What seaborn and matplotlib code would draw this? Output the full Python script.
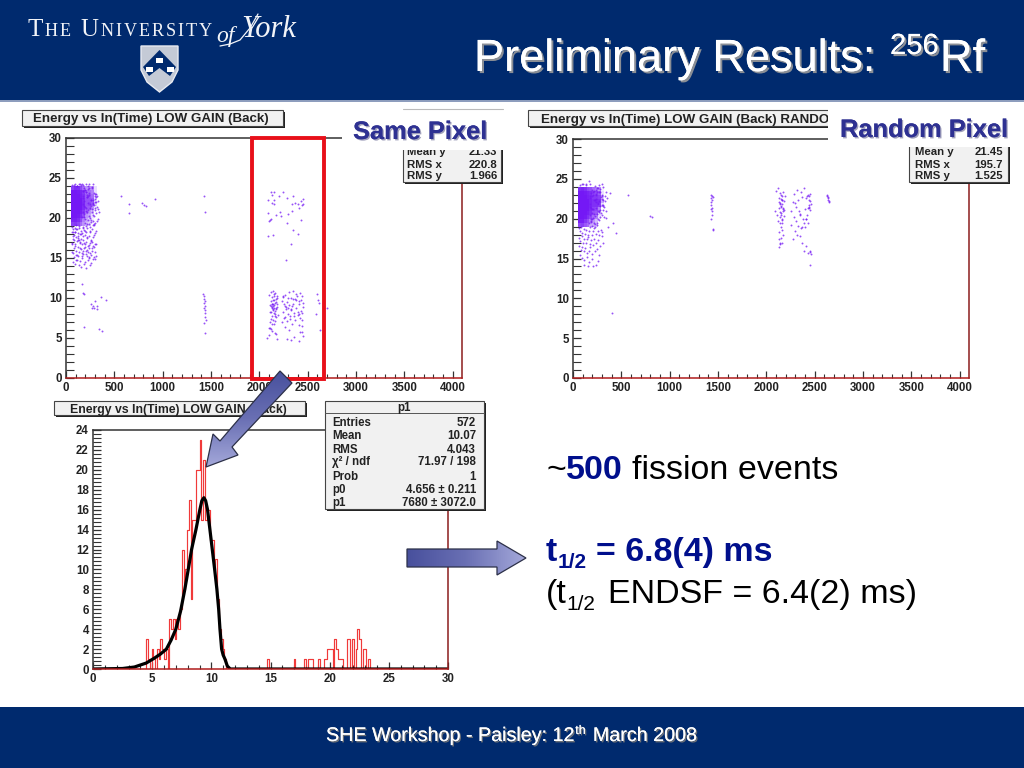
import numpy as np
import matplotlib
matplotlib.use("Agg")
import matplotlib.pyplot as plt
import matplotlib.patheffects as pe
from matplotlib.colors import LinearSegmentedColormap
from matplotlib.patches import Polygon, Rectangle
import seaborn as sns

# ---------------- DATA ----------------
# dense alpha blob, read as a density per cell (time bins across, energy bins down)
blob_x = [65, 95, 125, 155, 185, 215, 245, 275, 305]
blob_y = [23.75, 23.25, 22.75, 22.25, 21.75, 21.25, 20.75, 20.25, 19.75, 19.25]
same_blob = [
    [.60, .75, .70, .55, .40, .30, .30, .30, .10],
    [1.0, 1.0, .95, .85, .65, .40, .40, .35, .10],
    [1.0, 1.0, 1.0, .90, .70, .45, .45, .40, .10],
    [1.0, 1.0, 1.0, 1.0, .75, .50, .50, .45, .10],
    [1.0, 1.0, 1.0, 1.0, .80, .50, .55, .45, .15],
    [1.0, 1.0, 1.0, 1.0, .75, .45, .45, .30, .05],
    [1.0, 1.0, 1.0, .90, .65, .40, .30, .20, 0],
    [1.0, 1.0, .95, .75, .50, .30, .25, .10, 0],
    [.85, .90, .75, .55, .35, .25, .15, .05, 0],
    [.60, .65, .55, .40, .30, .20, .15, 0, 0],
]
random_blob = [
    [.75, .85, .70, .55, .50, .40, .35, .30, .05],
    [1.0, 1.0, .95, .85, .75, .60, .55, .45, .10],
    [1.0, 1.0, 1.0, .90, .80, .65, .65, .60, .15],
    [1.0, 1.0, 1.0, 1.0, .85, .70, .75, .70, .25],
    [1.0, 1.0, 1.0, 1.0, .85, .70, .70, .60, .10],
    [1.0, 1.0, 1.0, 1.0, .80, .60, .55, .35, 0],
    [1.0, 1.0, 1.0, .90, .70, .50, .45, .15, 0],
    [1.0, 1.0, .95, .70, .55, .40, .35, .10, 0],
    [.90, .90, .65, .50, .35, .30, .20, 0, 0],
    [.55, .60, .45, .40, .25, .25, .15, 0, 0],
]

same_dots_x = [172, 298, 214, 186, 271, 232, 305, 195, 254, 178,
               288, 223, 262, 201, 311, 243, 176, 279, 209, 296,
               238, 184, 266, 218, 303, 192, 250, 174, 284, 228,
               258, 205, 308, 246, 181, 275, 212, 292, 236, 188,
               268, 221, 300, 198, 256, 179, 286, 226, 260, 203,
               314, 241, 183, 277, 216, 294, 234, 190, 264, 219,
               302, 196, 252, 170, 282, 230, 322, 335, 150, 110,
               58, 83, 107, 134, 162, 189, 217, 244, 271, 298,
               71, 96, 123, 149, 176, 203, 231, 258, 285, 315,
               63, 89, 115, 141, 169, 196, 224, 252, 279, 60]
same_dots_y = [23.4, 21.2, 22.6, 20.1, 23.7, 21.9, 22.8, 19.4, 22.2, 20.7,
               23.1, 19.8, 21.5, 23.5, 20.6, 22.9, 21.7, 19.6, 23.2, 22.0,
               20.3, 23.8, 21.1, 19.2, 22.4, 21.4, 20.0, 22.7, 21.8, 23.6,
               19.5, 20.9, 23.0, 21.3, 22.5, 20.4, 23.3, 21.6, 19.3, 22.1,
               23.9, 20.8, 21.0, 19.9, 22.3, 23.4, 20.2, 22.8, 19.7, 21.2,
               22.0, 23.7, 20.5, 21.9, 22.6, 19.1, 23.1, 21.5, 20.7, 22.9,
               19.4, 23.5, 21.7, 20.1, 22.2, 21.0, 22.7, 21.1, 24.1, 24.0,
               18.3, 17.9, 18.6, 17.2, 18.1, 16.9, 17.6, 18.4, 16.3, 15.7,
               17.4, 16.7, 17.8, 16.2, 18.8, 15.9, 16.5, 17.1, 17.9, 15.3,
               15.8, 18.2, 15.4, 17.0, 15.2, 18.4, 14.7, 15.6, 14.9, 16.9]
random_dots_x = [178, 292, 209, 188, 266, 238, 301, 199, 248, 172,
                 284, 228, 258, 206, 306, 247, 180, 274, 213, 297,
                 233, 186, 270, 222, 299, 194, 252, 175, 280, 226,
                 262, 201, 310, 242, 183, 278, 216, 288, 240, 191,
                 272, 218, 304, 196, 254, 176, 282, 230, 256, 204,
                 318, 236, 185, 268, 212, 296, 244, 192, 260, 224,
                 308, 198, 250, 168, 276, 234, 326, 340, 135, 95]
random_dots_y = [22.9, 20.7, 23.3, 19.6, 22.2, 23.6, 20.4, 21.2, 19.2, 21.5,
                 23.7, 20.3, 22.0, 23.0, 21.1, 19.4, 22.6, 20.9, 23.5, 21.7,
                 21.4, 23.2, 19.8, 20.6, 22.8, 19.1, 23.9, 21.9, 20.2, 22.4,
                 21.0, 19.9, 21.6, 22.5, 20.0, 23.4, 19.5, 22.7, 23.1, 21.3,
                 20.8, 22.3, 23.0, 22.9, 21.8, 20.5, 21.1, 19.3, 23.8, 20.1,
                 21.5, 22.1, 19.7, 23.3, 21.2, 22.5, 20.6, 23.6, 20.0, 19.0,
                 22.4, 20.7, 23.4, 19.4, 21.6, 23.0, 22.2, 20.9, 24.2, 24.3]

same_tail_x = [62, 75, 88, 97, 110, 121, 133, 146, 158, 171, 183, 196, 208, 222, 235, 251, 268, 283, 301,
               70, 84, 101, 117, 129, 142, 155, 168, 181, 194, 207, 219, 233, 246, 262, 277, 296,
               64, 79, 93, 106, 124, 138, 151, 164, 177, 190, 203, 216, 229, 243, 258, 274, 292, 312,
               68, 82, 99, 113, 127, 148, 162, 175, 199, 214, 238, 255, 286, 73, 91, 108, 131, 153, 186, 211, 249, 296,
               66, 94, 118, 144, 172, 205, 241, 281, 86, 112, 136, 167, 224, 305, 328, 345, 318, 310, 335, 322,
               72, 103, 139, 176, 212, 247, 279, 292, 309, 58, 120, 160, 198, 236, 272]
same_tail_y = [18.9, 18.6, 18.8, 18.3, 18.6, 18.1, 18.7, 18.0, 18.4, 17.8, 18.5, 17.9, 18.3, 18.7, 17.7, 18.2, 18.6, 17.6, 18.1,
               17.8, 17.3, 17.6, 17.1, 17.5, 16.9, 17.4, 16.8, 17.2, 16.7, 17.0, 17.5, 16.6, 16.9, 17.3, 16.5, 16.8,
               16.7, 16.2, 16.5, 15.9, 16.4, 15.8, 16.1, 15.6, 15.9, 16.3, 15.5, 16.0, 15.7, 16.2, 15.4, 15.9, 16.4, 16.7,
               15.6, 15.1, 15.4, 14.8, 15.2, 14.6, 15.0, 15.5, 14.5, 15.3, 15.0, 14.4, 15.1, 14.5, 14.2, 14.7, 14.1, 13.9, 14.3, 13.8, 14.1, 14.9,
               24.1, 24.3, 24.0, 24.2, 24.1, 24.3, 24.2, 24.3, 24.1, 24.0, 24.2, 24.2, 24.0, 23.0, 22.1, 20.7, 19.6, 18.4, 19.9, 21.4,
               18.2, 19.1, 19.0, 18.9, 19.0, 18.9, 19.1, 19.3, 22.6, 20.0, 17.3, 18.0, 16.4, 15.1, 17.0]
same_misc_x = [570, 655, 655, 790, 810, 830, 920, 1430, 1440,
               170, 175, 185, 260, 265, 275, 290, 305, 320, 325, 360, 410, 185, 340, 375,
               1420, 1425, 1430, 1432, 1435, 1435, 1440, 1440, 1445, 1430, 1438, 1425, 1442,
               2700, 2600, 2610, 2620, 2590, 2625]
same_misc_y = [22.7, 21.8, 20.6, 21.9, 21.6, 21.5, 22.4, 22.8, 20.7,
               11.8, 10.6, 10.5, 9.3, 8.8, 9.0, 8.7, 9.6, 9.0, 8.6, 10.1, 9.8, 6.4, 6.1, 5.9,
               10.5, 10.2, 9.9, 9.4, 9.0, 8.5, 8.1, 7.6, 7.2, 6.9, 5.6, 8.8, 9.6,
               8.7, 10.5, 9.8, 9.4, 8.0, 6.0]
same_window_x = [2100, 2105, 2110, 2112, 2118, 2120, 2123, 2126, 2128, 2130, 2132, 2135, 2137, 2140, 2142, 2145, 2147, 2150, 2152, 2155, 2158, 2160, 2163, 2166, 2170, 2175, 2178, 2180, 2185, 2190,
                 2120, 2128, 2136, 2144, 2152, 2160, 2168, 2176, 2110, 2125, 2140, 2155, 2170, 2185, 2118, 2134, 2149, 2164,
                 2230, 2240, 2248, 2255, 2262, 2268, 2275, 2282, 2290, 2296, 2303, 2310, 2318, 2325, 2332, 2340, 2346, 2352, 2360, 2368, 2375, 2382, 2390, 2398, 2405, 2412, 2420, 2426, 2432, 2438, 2445, 2450,
                 2235, 2250, 2265, 2280, 2298, 2315, 2330, 2345, 2362, 2378, 2395, 2410, 2425, 2440, 2452, 2245, 2270, 2300, 2335, 2370, 2405, 2440,
                 2080, 2095, 2160, 2185, 2290, 2330, 2360, 2410, 2440, 2455, 2100, 2135, 2175, 2310, 2420]
same_window_y = [10.4, 7.0, 9.1, 6.3, 10.7, 8.3, 9.6, 7.7, 10.1, 8.9, 6.7, 9.3, 10.9, 8.6, 7.3, 9.0, 10.3, 8.1, 9.7, 8.8, 7.1, 9.4, 10.6, 8.4, 9.9, 7.6, 8.9, 10.2, 9.2, 7.9,
                 9.0, 8.7, 9.3, 8.5, 9.1, 8.0, 9.5, 8.8, 8.2, 7.4, 9.8, 6.8, 8.6, 10.0, 6.1, 9.2, 10.5, 7.8,
                 9.6, 8.2, 10.1, 7.5, 9.0, 10.4, 8.6, 7.1, 9.5, 8.0, 10.7, 9.1, 7.7, 8.5, 10.0, 6.8, 9.3, 10.9, 8.1, 7.3, 9.7, 8.8, 10.3, 7.9, 9.2, 6.6, 10.6, 8.4, 9.8, 7.2, 10.2, 8.9,
                 7.0, 9.3, 6.4, 8.9, 10.0, 7.4, 8.6, 9.9, 7.8, 10.5, 8.3, 9.6, 7.5, 8.1, 9.4, 10.3, 7.6, 8.8, 9.0, 9.9, 8.0, 6.5,
                 5.0, 5.4, 5.6, 4.9, 4.9, 4.7, 5.1, 4.6, 5.8, 5.2, 6.2, 5.9, 5.5, 6.0, 5.7]
same_upper_x = [2085, 2120, 2130, 2150, 2155, 2205, 2240, 2290, 2335, 2350, 2370, 2400, 2430, 2445, 2450,
                2090, 2135, 2148, 2170, 2225, 2300, 2340, 2410, 2435, 2455, 2095, 2110, 2215, 2290, 2140,
                2085, 2125, 2350, 2400, 2330, 2280]
same_upper_y = [22.3, 23.2, 22.9, 23.3, 21.7, 22.8, 23.3, 22.5, 21.7, 22.7, 21.9, 21.7, 22.1, 21.6, 22.4,
                20.6, 21.9, 22.2, 20.4, 20.3, 20.5, 20.9, 21.3, 19.8, 21.7, 19.6, 19.8, 20.7, 19.4, 17.9,
                17.8, 19.9, 18.5, 18.0, 16.8, 14.7]

random_tail_x = [60, 72, 85, 98, 110, 124, 137, 150, 163, 177, 192, 206, 221, 238, 254, 270, 285, 300,
                 62, 76, 90, 104, 118, 132, 146, 160, 175, 190, 205, 222, 240, 258, 278,
                 64, 80, 96, 112, 128, 145, 162, 180, 200, 224, 250, 272,
                 68, 92, 116, 140, 168, 196, 235, 260, 110, 150, 210,
                 330, 345, 310, 325, 340, 380, 440, 410, 360, 300, 315, 350, 75, 130, 175, 225, 265, 295, 312, 100, 165]
random_tail_y = [18.8, 18.5, 18.9, 18.2, 18.7, 18.1, 18.6, 18.0, 18.5, 18.9, 17.9, 18.4, 18.8, 18.1, 18.5, 18.0, 18.6, 18.3,
                 17.6, 17.2, 17.8, 17.0, 17.5, 16.9, 17.4, 17.7, 16.8, 17.3, 16.7, 17.5, 17.0, 17.3, 16.6,
                 16.6, 16.1, 16.4, 15.9, 16.3, 15.7, 16.0, 16.4, 15.6, 15.9, 16.2, 15.5,
                 15.5, 15.1, 14.8, 15.2, 14.6, 15.0, 14.2, 14.7, 14.2, 14.1, 14.0,
                 22.9, 23.3, 21.7, 20.2, 20.1, 23.2, 18.2, 19.4, 19.0, 17.8, 16.9, 22.6, 24.2, 24.4, 24.3, 24.1, 24.2, 24.4, 24.0, 24.3, 24.7]
random_misc_x = [570, 800, 820, 400, 1425, 1428, 1430, 1432, 1435, 1438, 1440, 1440, 1442, 1445, 1430, 1432, 1445, 1450,
                 2630, 2635, 2640, 2645, 2632, 2640, 2645]
random_misc_y = [23.0, 20.3, 20.2, 8.1, 23.0, 22.6, 22.1, 21.7, 22.9, 21.4, 22.3, 20.4, 21.0, 22.7, 21.2, 20.0, 18.7, 18.6,
                 23.0, 22.7, 22.4, 22.1, 22.9, 22.6, 22.2]
random_window_x = [2090, 2100, 2110, 2118, 2125, 2130, 2135, 2138, 2142, 2146, 2150, 2153, 2156, 2160, 2163, 2166, 2170, 2174, 2178, 2182, 2186, 2190,
                   2130, 2140, 2148, 2155, 2162, 2170, 2145, 2152, 2158, 2165, 2142, 2150, 2160, 2168, 2135, 2175,
                   2130, 2145, 2160, 2130, 2140, 2150, 2165,
                   2260, 2275, 2285, 2295, 2305, 2315, 2325, 2335, 2345, 2355, 2365, 2375, 2385, 2395, 2405, 2415, 2425, 2432, 2440, 2446, 2452, 2458,
                   2290, 2310, 2330, 2350, 2370, 2390, 2410, 2430, 2440, 2450, 2300, 2320, 2360, 2400, 2445, 2280, 2345, 2420, 2455, 2445, 2430,
                   2370, 2390, 2410, 2430, 2450, 2460, 2250]
random_window_y = [21.0, 23.5, 20.4, 19.7, 23.9, 22.6, 21.3, 20.2, 23.2, 22.0, 21.5, 20.7, 23.0, 22.4, 21.8, 19.8, 20.9, 23.4, 22.2, 21.1, 20.3, 22.8,
                   22.1, 21.9, 22.5, 21.6, 22.9, 21.4, 20.8, 20.5, 22.3, 20.0, 19.4, 19.0, 19.5, 21.2, 18.3, 17.9,
                   17.4, 16.9, 17.0, 16.4, 16.8, 17.6, 18.6,
                   20.9, 22.1, 23.1, 22.0, 21.5, 23.6, 22.3, 21.0, 20.4, 23.3, 22.7, 20.0, 23.9, 21.2, 22.6, 19.9, 22.9, 21.4, 22.8, 21.7, 23.1, 21.9,
                   20.2, 19.7, 19.1, 20.6, 18.9, 19.4, 20.0, 19.5, 21.3, 22.2, 18.5, 18.0, 18.8, 19.0, 21.5, 17.5, 17.8, 20.5, 21.1, 22.4, 23.0,
                   16.9, 16.0, 16.6, 15.7, 15.9, 15.6, 19.2]
random_extra_x = [2450, 2448]
random_extra_y = [14.2, 15.8]

hist_x = [4.62, 4.77, 5.07, 5.22, 5.52, 5.67, 5.82, 5.97, 6.12, 6.27, 6.57, 6.72, 6.87, 7.02, 7.17, 7.32, 7.47,
          7.57, 7.72, 7.87, 8.02, 8.17, 8.32, 8.47, 8.62, 8.77, 8.92, 9.07, 9.22, 9.37, 9.52, 9.67, 9.82,
          9.97, 10.12, 10.27, 10.42, 10.57, 10.72, 10.87, 11.02, 11.17,
          14.77, 17.02, 17.87, 18.17, 18.32, 18.47, 19.07, 19.52, 19.67, 19.82, 19.97, 20.12, 20.42, 20.57, 20.72,
          20.87, 21.02, 21.47, 21.62, 21.92, 22.22, 22.37, 22.52, 22.82, 22.97, 23.27]
hist_n = [3, 1, 2, 1, 2, 1, 3, 2, 1, 2, 5, 4, 5, 3, 5, 4, 6,
          12, 8, 10, 14, 17, 7, 15, 15, 20, 20, 23, 15, 21, 15, 16, 16,
          13, 13, 10, 11, 7, 4, 3, 2, 1,
          1, 1, 1, 1, 1, 1, 1, 1, 1, 2, 2, 2, 3, 2, 1,
          1, 1, 3, 3, 3, 2, 4, 3, 2, 2, 1]
fit_x = [0, 2.5, 3.5, 4.5, 5.2, 5.7, 6.2, 6.6, 7.0, 7.4, 7.76, 8.05, 8.33, 8.7, 9.03, 9.2, 9.37,
         9.52, 9.68, 9.88, 10.08, 10.28, 10.47, 10.62, 10.73, 10.87, 11.0, 11.15, 11.35, 11.6, 30]
fit_y = [0, 0.05, 0.2, 0.6, 1.1, 1.5, 2.0, 2.9, 4.0, 5.8, 8.0, 10.0, 12.0, 14.0, 16.0, 16.9, 17.2,
         16.9, 16.0, 14.0, 12.0, 10.0, 8.0, 6.0, 4.0, 2.0, 1.4, 1.0, 0.3, 0, 0]

stats_same = [("Mean y", "21.33"), ("RMS x", "220.8"), ("RMS y", "1.966")]
stats_random = [("Mean y", "21.45"), ("RMS x", "195.7"), ("RMS y", "1.525")]
stats_fit = [("Entries", "572"), ("Mean", "10.07"), ("RMS", "4.043"), ("χ² / ndf", "71.97 / 198"),
             ("Prob", "1"), ("p0", "4.656 ± 0.211"), ("p1", "7680 ± 3072.0")]
scatter_ticks = [0, 500, 1000, 1500, 2000, 2500, 3000, 3500, 4000]

# ---------------- SETTINGS ----------------
sns.set_theme(style="ticks")
plt.rcParams["font.family"] = ["Liberation Sans", "DejaVu Sans"]

NAVY = "#002a6e"
INK = "#2e3192"
DARK_RED = "#8c1c1c"
PURPLE = "#7418f5"
blob_cmap = LinearSegmentedColormap.from_list(
    "blob", [(0, "#ffffff"), (0.2, "#d4bdfc"), (0.45, "#9a58f8"), (0.7, "#8030f6"), (1, PURPLE)])

fig = plt.figure(figsize=(10.24, 7.68), dpi=100, facecolor="white")


def px_axes(left, top, right, bottom, **kw):
    return fig.add_axes([left / 1024, 1 - bottom / 768, (right - left) / 1024, (bottom - top) / 768], **kw)


def root_style(ax, xticks, xminor, yticks, yminor, xlim, ylim):
    ax.set_xlim(*xlim)
    ax.set_ylim(*ylim)
    ax.set_xticks(xticks)
    ax.set_xticks(xminor, minor=True)
    ax.set_yticks(yticks)
    ax.set_yticks(yminor, minor=True)
    ax.set_xlabel("")
    ax.set_ylabel("")
    ax.tick_params(which="major", direction="in", length=5, width=0.9, color="#333333", pad=3,
                   labelsize=8.3, labelcolor="#222222")
    ax.tick_params(which="minor", direction="in", length=3, width=0.8, color="#333333")
    ax.tick_params(axis="y", which="both", length=5.5)
    for lab in ax.get_xticklabels() + ax.get_yticklabels():
        lab.set_fontweight("bold")
    for side, col in [("left", "#333333"), ("top", "#333333"), ("bottom", "#b01c1c"), ("right", DARK_RED)]:
        ax.spines[side].set_visible(True)
        ax.spines[side].set_color(col)
        ax.spines[side].set_linewidth(1.1)


def pd_cells(blob):
    xs, ys, ws = [], [], []
    for row, y in zip(blob, blob_y):
        for w, x in zip(row, blob_x):
            xs.append(x)
            ys.append(y)
            ws.append(w)
    return xs, ys, ws


def scatter_panel(box, blob, groups):
    ax = px_axes(*box)
    cells = pd_cells(blob)
    sns.histplot(x=cells[0], y=cells[1], weights=cells[2], ax=ax, cmap=blob_cmap, vmin=0, vmax=1,
                 bins=[np.arange(50, 321, 30), np.arange(19, 24.01, 0.5)], cbar=False)
    for gx, gy in groups:
        sns.scatterplot(x=gx, y=gy, ax=ax, s=1.9, color=PURPLE, linewidth=0, alpha=0.75)
    root_style(ax, scatter_ticks, np.arange(0, 4097, 100), np.arange(0, 31, 5), np.arange(0, 31, 1),
               (0, 4096), (0, 30))
    return ax


# ---------------- PANELS ----------------
scatter_panel((66, 138, 462, 378), same_blob,
              [(same_dots_x, same_dots_y), (same_tail_x, same_tail_y), (same_misc_x, same_misc_y),
               (same_window_x, same_window_y), (same_upper_x, same_upper_y)])
scatter_panel((573, 139, 969, 378), random_blob,
              [(random_dots_x, random_dots_y), (random_tail_x, random_tail_y), (random_misc_x, random_misc_y),
               (random_window_x, random_window_y), (random_extra_x, random_extra_y)])

ax_h = px_axes(93, 430, 448, 669)
sns.histplot(x=hist_x, weights=hist_n, bins=np.linspace(0, 30, 201).tolist(), element="step", fill=False,
             color="#f03a3a", linewidth=0.85, ax=ax_h)
sns.lineplot(x=fit_x, y=fit_y, ax=ax_h, color="black", linewidth=2.3, errorbar=None, sort=False)
root_style(ax_h, np.arange(0, 31, 5), np.arange(0, 31, 1), np.arange(0, 25, 2), np.arange(0, 24.1, 0.4),
           (0, 30), (0, 24))

# ---------------- OVERLAY (banners, boxes, arrows, text) ----------------
ov = fig.add_axes([0, 0, 1, 1], zorder=10)
ov.patch.set_alpha(0)
ov.axis("off")
ov.set_xlim(0, 1024)
ov.set_ylim(768, 0)


def rect(x0, y0, x1, y1, z=2, **kw):
    kw.setdefault("linewidth", 0)
    ov.add_patch(Rectangle((x0, y0), x1 - x0, y1 - y0, zorder=z, **kw))


def label(x, y, s, size, z=3, **kw):
    kw.setdefault("va", "baseline")
    return ov.text(x, y, s, fontsize=size, zorder=z, **kw)


def shadow(offset, col, alpha=0.8):
    return [pe.withSimplePatchShadow(offset=offset, shadow_rgbFace=col, alpha=alpha), pe.Normal()]


def root_box(x0, y0, x1, y1, z=2):
    rect(x0 + 2, y0 + 2, x1 + 2, y1 + 2, z=z, facecolor="#222222")
    rect(x0, y0, x1, y1, z=z, facecolor="#f1f1f1", edgecolor="#444444", linewidth=0.8)


def run(x, y, parts, z=7, family=None):
    # text pieces one after the other; each piece: text, size, weight, colour, raise, gap after
    r = fig.canvas.get_renderer()
    for s, size, weight, col, dy, gap in parts:
        t = ov.text(x, y - dy, s, fontsize=size, fontweight=weight, color=col, zorder=z, va="baseline")
        if family:
            t.set_fontfamily(family)
        x = ov.transData.inverted().transform(t.get_window_extent(r).get_points())[1][0] + gap
    return x


rect(0, 0, 1024, 101, z=1, facecolor=NAVY)
rect(0, 100, 1024, 102, z=1, facecolor="#8d9dbd")
rect(0, 707, 1024, 768, z=1, facecolor=NAVY)

# root stat and title boxes
root_box(22, 110, 283, 126)
label(33, 122, "Energy vs ln(Time) LOW GAIN (Back)", 9.6, fontweight="bold", color="#222222")
root_box(528, 110, 860, 126)
label(541, 122.5, "Energy vs ln(Time) LOW GAIN (Back) RANDOM", 9.6, fontweight="bold", color="#222222")
root_box(54, 401, 305, 415)
label(70, 413, "Energy vs ln(Time) LOW GAIN (Back)", 8.8, fontweight="bold", color="#222222")

root_box(403, 130, 501, 182)
for (name, val), y in zip(stats_same, [155, 168, 179]):
    label(407, y, name, 8.2, fontweight="bold", color="#222222")
    label(497, y, val, 8.2, fontweight="bold", color="#222222", ha="right")
root_box(909, 130, 1008, 182)
for (name, val), y in zip(stats_random, [155, 168, 179]):
    label(915, y, name, 8.2, fontweight="bold", color="#222222")
    label(1003, y, val, 8.2, fontweight="bold", color="#222222", ha="right")

# white text boxes of the slide sit over the plots
rect(342, 110, 510, 150, z=4, facecolor="white")
rect(828, 108, 1024, 147, z=4, facecolor="white")
ov.plot([403, 503], [109, 109], color="#bbbbbb", lw=0.8, zorder=4)

root_box(325, 401, 484, 509)
ov.plot([325, 484], [413, 413], color="#555555", lw=0.7, zorder=3)
label(404.5, 411, "p1", 8.4, fontweight="bold", color="#222222", ha="center")
for (name, val), y in zip(stats_fit, [426, 439, 453, 465, 480, 493, 506]):
    label(332, y, name, 8.3, fontweight="bold", color="#222222")
    label(476, y, val, 8.3, fontweight="bold", color="#222222", ha="right")

# same pixel / random pixel captions
label(353, 139, "Same Pixel", 18.3, z=5, fontweight="bold", color=INK, path_effects=shadow((1, -1), "#8888aa"))
label(840, 137, "Random Pixel", 18.3, z=5, fontweight="bold", color=INK, path_effects=shadow((1, -1), "#8888aa"))

# red selection box
rect(252, 138, 324, 379, z=6, facecolor="none", edgecolor="#e8101a", linewidth=2.8)

# block arrows with a colour ramp
ramp = np.linspace(0, 1, 64).reshape(1, -1)
arrow_cmap = LinearSegmentedColormap.from_list("arrow", ["#474f9c", "#6a70b4", "#a6aadb"])


def block_arrow(points, extent, data):
    poly = Polygon(points, closed=True, facecolor="none", edgecolor="#2c3048", linewidth=0.9, zorder=9)
    ov.add_patch(poly)
    im = ov.imshow(data, extent=extent, cmap=arrow_cmap, aspect="auto", zorder=8, vmin=0, vmax=1)
    im.set_clip_path(poly)


block_arrow([(280, 371), (292, 383), (232, 447), (238, 455), (206, 467), (213, 434), (220, 441)],
            (204, 294, 469, 369), ramp.T)
block_arrow([(407, 549), (497, 549), (497, 541), (526, 558), (497, 575), (497, 567), (407, 567)],
            (405, 528, 577, 539), ramp)
ov.set_xlim(0, 1024)
ov.set_ylim(768, 0)

# slide text
run(474, 71, [("Preliminary Results:", 32.5, "normal", "white", 0, 16)])
ov.texts[-1].set_path_effects(shadow((1.5, -1.5), "#9a9a9a", 0.9))
run(890, 54, [("256", 21, "normal", "white", 0, 1)])
ov.texts[-1].set_path_effects(shadow((1.5, -1.5), "#9a9a9a", 0.9))
run(940, 71, [("Rf", 32.5, "normal", "white", 0, 0)])
ov.texts[-1].set_path_effects(shadow((1.5, -1.5), "#9a9a9a", 0.9))

run(546, 479, [("~", 24.5, "normal", "black", 0, 0), ("500", 24.5, "bold", "#000f8c", 0, 9),
               ("fission events", 24.5, "normal", "black", 0, 0)])
run(546, 561, [("t", 24.5, "bold", "#000f8c", 0, 0), ("1/2", 15, "bold", "#000f8c", -7, 10),
               ("= 6.8(4) ms", 24.5, "bold", "#000f8c", 0, 0)])
run(546, 603, [("(t", 24.5, "normal", "black", 0, 0), ("1/2", 15, "normal", "black", -7, 12),
               ("ENDSF = 6.4(2) ms)", 24.5, "normal", "black", 0, 0)])

# footer
run(326, 741, [("SHE Workshop - Paisley: 12", 14.2, "normal", "white", 0, 0),
               ("th", 9, "normal", "white", 7, 7),
               ("March 2008", 14.2, "normal", "white", 0, 0)])
for t in ov.texts[-3:]:
    t.set_path_effects(shadow((1, -1), "#777777", 0.9))

# university crest and name
logo = "#f2f4f8"
x = run(28, 36, [("T", 18, "normal", logo, 0, 1.4)], z=3, family="Liberation Serif")
for word in ["HE", "", "U", "NIVERSITY"]:
    if word == "":
        x += 8
        continue
    for ch in word:
        big = word == "U"
        x = run(x, 36, [(ch, 18 if big else 13.1, "normal", logo, 0, 1.9)], z=3, family="Liberation Serif")
label(216, 42, "of", 17, color=logo, family="Liberation Serif", style="italic")
label(241, 37, "York", 22, color=logo, family="Liberation Serif", style="italic")
ov.plot([220, 230, 240, 250, 258], [46, 44, 40, 28, 14], color=logo, lw=0.9, zorder=3)

shield = [(141, 46), (178, 46), (178, 70), (172, 82), (159.5, 92), (147, 82), (141, 70)]
ov.add_patch(Polygon(shield, closed=True, facecolor="#c4cad6", edgecolor="#e8ebf2", linewidth=1.0, zorder=3))
ov.add_patch(Polygon([(159.5, 50), (176, 67), (170, 76), (159.5, 68), (149, 76), (143, 67)], closed=True,
                     facecolor=NAVY, linewidth=0, zorder=4))
for cx, cy in [(159.5, 60), (149, 69), (170, 69)]:
    rect(cx - 3.5, cy - 2.5, cx + 3.5, cy + 2.5, z=5, facecolor="white")

plt.savefig("out.png", dpi=100, facecolor="white")
plt.close()
